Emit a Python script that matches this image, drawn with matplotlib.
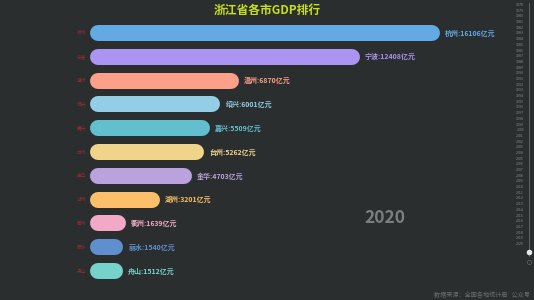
import matplotlib
matplotlib.use("Agg")
import matplotlib.pyplot as plt

plt.rcParams['font.family'] = ['Noto Sans CJK SC', 'DejaVu Sans']

cities = ["杭州", "宁波", "温州", "绍兴", "嘉兴", "台州", "金华", "湖州", "衢州", "丽水", "舟山"]
gdp = [16106, 12408, 6870, 6001, 5509, 5262, 4703, 3201, 1639, 1540, 1512]
colors = ["#63a9e4", "#ab94f2", "#fda08a", "#93cde6", "#62bfd0", "#f0d48a",
          "#baa3dc", "#fdbf69", "#f2a9c8", "#5f8fcf", "#76d3cc"]
years = list(range(1978, 2021))
current_year = "2020"

bg = "#2b2e2e"
W, H = 534, 300
fig = plt.figure(figsize=(W / 100, H / 100), dpi=100, facecolor=bg)

# main bar area: x from 90px to 440px, rows from 21px to 283px
ax = fig.add_axes([90 / W, 1 - 283 / H, 350 / W, 262 / H])
ax.set_facecolor(bg)
ax.set_xlim(0, max(gdp))
ax.set_ylim(len(cities) - 0.5, -0.5)
ax.axis("off")

bar_px = 16
r = (bar_px / 2) * max(gdp) / 350
for i, (c, v, col) in enumerate(zip(cities, gdp, colors)):
    ax.plot([r, v - r], [i, i], color=col, lw=bar_px * 72 / 100,
            solid_capstyle="round", clip_on=False)
    ax.text(v + 5 * max(gdp) / 350, i, f"{c}:{v}亿元", color=col,
            fontsize=5.0, fontweight="bold", va="center", ha="left")
    ax.text(-4 * max(gdp) / 350, i, c, color="#a02a33",
            fontsize=3.4, va="center", ha="right")

fig.text(0.5, 1 - 10 / H, "浙江省各市GDP排行", color="#c6e01a",
         fontsize=8.5, fontweight="bold", ha="center", va="center")
fig.text(385 / W, 1 - 218 / H, current_year, color="#7d7f7f",
         fontsize=12.5, fontweight="bold", ha="center", va="center")

# timeline on the right
tl = fig.add_axes([0, 0, 1, 1])
tl.set_xlim(0, W)
tl.set_ylim(H, 0)
tl.axis("off")
tl.plot([529, 529], [3, 256], color="#5a5d5d", lw=0.8)
n = len(years)
for k, y in enumerate(years):
    yy = 5 + k * (244 - 5) / (n - 1)
    tl.text(524, yy, str(y), color="#8a8c8c", fontsize=2.6,
            ha="right", va="center")
tl.plot([529], [252], "o", color="#e8e8e8", ms=3)
tl.plot([529], [262], "o", mfc="none", mec="#666", ms=3, mew=0.5)

fig.text(434 / W, 1 - 295 / H, "数据来源：全国各地统计局   公众号",
         color="#6c6e6e", fontsize=4.4, ha="left", va="center")

fig.savefig("out.png", dpi=100, facecolor=bg)
